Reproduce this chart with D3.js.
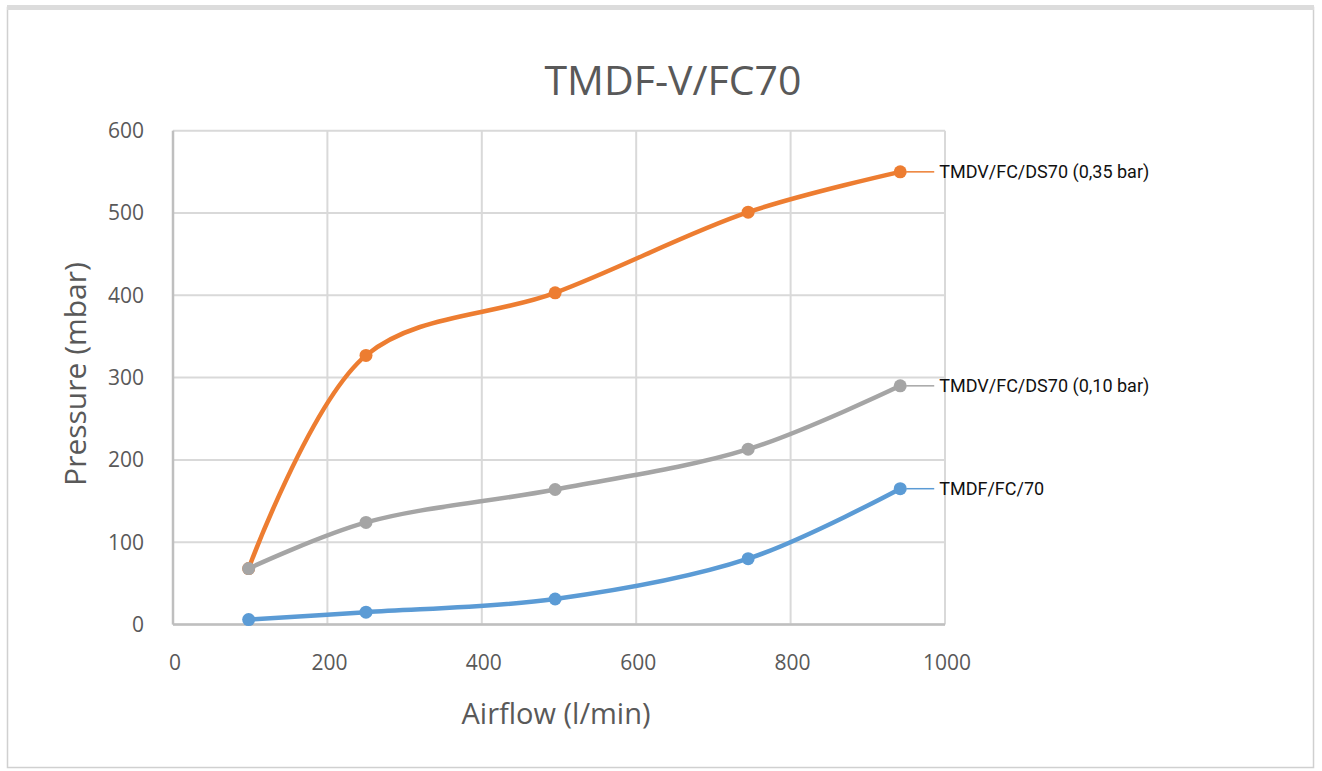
<!DOCTYPE html>
<html><head><meta charset="utf-8">
<script src="https://cdn.jsdelivr.net/npm/d3@7"></script>
<style>body{margin:0;background:#fff}svg{display:block}</style>
</head><body><svg id="c" width="1322" height="771"></svg>
<script>
const airflow = [98, 250, 495, 745, 942];
const seriesNames = ["TMDV/FC/DS70 (0,35 bar)", "TMDV/FC/DS70 (0,10 bar)", "TMDF/FC/70"];
const orangeVals = [68, 327, 403, 501, 550];
const grayVals = [68, 124, 164, 213, 290];
const blueVals = [6, 15, 31, 80, 165];
const seriesColors = ["#ED7D31", "#A5A5A5", "#5B9BD5"];
const xTicks = [0, 200, 400, 600, 800, 1000];
const yTicks = [0, 100, 200, 300, 400, 500, 600];

const svg = d3.select("#c");
svg.append("rect").attr("x",7.5).attr("y",7.5).attr("width",1306).attr("height",760)
  .attr("fill","#fff").attr("stroke","#d0d0d0").attr("stroke-width",1.5);
svg.append("rect").attr("x",7).attr("y",5).attr("width",1307).attr("height",5).attr("fill","#dcdcdc");

const x = d3.scaleLinear().domain([0,1000]).range([173,945]);
const y = d3.scaleLinear().domain([0,600]).range([624.5,130.7]);

const g = svg.append("g");
g.selectAll(".hg").data(yTicks).join("line")
  .attr("x1",x(0)).attr("x2",x(1000)).attr("y1",d=>y(d)).attr("y2",d=>y(d))
  .attr("stroke","#d9d9d9").attr("stroke-width",2);
g.selectAll(".vg").data(xTicks).join("line")
  .attr("y1",y(0)).attr("y2",y(600)).attr("x1",d=>x(d)).attr("x2",d=>x(d))
  .attr("stroke","#d9d9d9").attr("stroke-width",2);
g.append("line").attr("x1",x(0)).attr("x2",x(1000)).attr("y1",y(0)).attr("y2",y(0)).attr("stroke","#bfbfbf").attr("stroke-width",2.5);
g.append("line").attr("x1",x(0)).attr("x2",x(0)).attr("y1",y(0)).attr("y2",y(600)).attr("stroke","#bfbfbf").attr("stroke-width",2.5);

const tickFont = "'Open Sans', sans-serif";
g.selectAll(".yt").data(yTicks).join("text")
  .attr("x",144).attr("y",d=>y(d)).attr("dy","0.35em").attr("text-anchor","end")
  .attr("font-family",tickFont).attr("font-size",21).attr("fill","#595959").text(d=>d);
g.selectAll(".xt").data(xTicks).join("text")
  .attr("x",d=>x(d)+2).attr("y",663).attr("dy","0.35em").attr("text-anchor","middle")
  .attr("font-family",tickFont).attr("font-size",21).attr("fill","#595959").text(d=>d);

svg.append("text").attr("x",673).attr("y",95).attr("text-anchor","middle")
  .attr("font-family",tickFont).attr("font-size",41).attr("fill","#595959").text("TMDF-V/FC70");
svg.append("text").attr("transform","translate(86,374) rotate(-90)").attr("text-anchor","middle")
  .attr("font-family",tickFont).attr("font-size",30).attr("fill","#595959").text("Pressure (mbar)");
svg.append("text").attr("x",556).attr("y",724).attr("text-anchor","middle")
  .attr("font-family",tickFont).attr("font-size",29).attr("fill","#595959").text("Airflow (l/min)");

const allVals = [orangeVals, grayVals, blueVals];
const line = d3.line().x(d=>x(d[0])).y(d=>y(d[1])).curve(d3.curveCatmullRom.alpha(0.5));
const order = [0,1,2];
order.forEach(i=>{
  const pts = airflow.map((a,j)=>[a, allVals[i][j]]);
  const sg = svg.append("g");
  sg.append("path").attr("d",line(pts)).attr("fill","none")
    .attr("stroke",seriesColors[i]).attr("stroke-width",4.5).attr("stroke-linecap","round");
  sg.selectAll("circle").data(pts).join("circle")
    .attr("cx",d=>x(d[0])).attr("cy",d=>y(d[1])).attr("r",6.5).attr("fill",seriesColors[i]);
  const last = pts[pts.length-1];
  sg.append("line").attr("x1",x(last[0])+6).attr("x2",x(last[0])+34)
    .attr("y1",y(last[1])).attr("y2",y(last[1])).attr("stroke",seriesColors[i]).attr("stroke-width",1.5);
  sg.append("text").attr("x",x(last[0])+39).attr("y",y(last[1])).attr("dy","0.36em")
    .attr("font-family","Roboto, sans-serif").attr("font-size",18).attr("fill","#111")
    .text(seriesNames[i]);
});
</script></body></html>
